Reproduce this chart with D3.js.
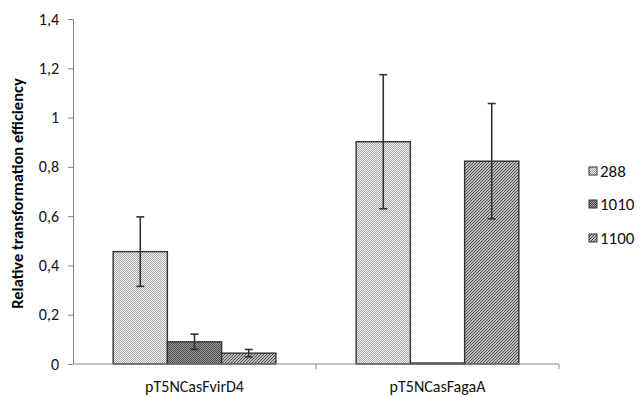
<!DOCTYPE html>
<html>
<head>
<meta charset="utf-8">
<script src="https://cdn.jsdelivr.net/npm/d3@7"></script>
<style>
	body { margin: 0; background: #fff; }
	text { font-family: Carlito, Lato, "Open Sans", sans-serif; }
</style>
</head>
<body>
<svg id="chart" width="643" height="397"></svg>
<script>
// chart data
var categories = ['pT5NCasFvirD4', 'pT5NCasFagaA'];
var seriesNames = ['288', '1010', '1100'];
var values288 = [0.456, 0.902];
var values1010 = [0.090, 0.004];
var values1100 = [0.044, 0.823];
var err288 = [0.141, 0.272];
var err1010 = [0.031, 0];
var err1100 = [0.015, 0.234];
var yTicks = [0, 0.2, 0.4, 0.6, 0.8, 1, 1.2, 1.4];

var seriesValues = [values288, values1010, values1100];
var seriesErrors = [err288, err1010, err1100];

var margin = { top: 19, left: 73, bottom: 33, right: 84 };
var width = 643 - margin.left - margin.right;
var height = 397 - margin.top - margin.bottom;
var textColor = '#111';

var svg = d3.select('#chart');
var defs = svg.append('defs');

// fill patterns
function checker(id, light, dark) {
	var p = defs.append('pattern')
		.attr('id', id)
		.attr('patternUnits', 'userSpaceOnUse')
		.attr('width', 2)
		.attr('height', 2);
	p.append('rect').attr('width', 2).attr('height', 2).attr('fill', light);
	p.append('rect').attr('width', 1).attr('height', 1).attr('fill', dark);
	p.append('rect').attr('x', 1).attr('y', 1).attr('width', 1).attr('height', 1).attr('fill', dark);
}
checker('p288', '#ffffff', '#9a9a9a');
checker('p1010', '#a6a6a6', '#404040');

var stripes = defs.append('pattern')
	.attr('id', 'p1100')
	.attr('patternUnits', 'userSpaceOnUse')
	.attr('width', 3)
	.attr('height', 3);
stripes.append('rect').attr('width', 3).attr('height', 3).attr('fill', '#fff');
stripes.append('path')
	.attr('d', 'M-1,1 L1,-1 M0,3 L3,0 M2,4 L4,2')
	.attr('stroke', '#333')
	.attr('stroke-width', 1.1);

var fills = ['url(#p288)', 'url(#p1010)', 'url(#p1100)'];

var g = svg.append('g')
	.attr('transform', 'translate(' + margin.left + ',' + margin.top + ')');

var x0 = d3.scaleBand()
	.domain(categories)
	.range([0, width])
	.paddingInner(0)
	.paddingOuter(0);

var barWidth = x0.bandwidth() / (3 + 1.48);
var x1 = d3.scaleBand()
	.domain(seriesNames)
	.range([0, barWidth * 3]);

var y = d3.scaleLinear()
	.domain([0, 1.4])
	.range([height, 0]);

// y axis
var yAxis = g.append('g')
	.call(d3.axisLeft(y).tickValues(yTicks).tickSize(5).tickPadding(9)
		.tickFormat(function(d) { return String(d).replace('.', ','); }));
yAxis.select('.domain').attr('stroke', '#868686').attr('d', 'M-5,0.5H0.5V' + height);
yAxis.selectAll('.tick line').attr('stroke', '#868686');
yAxis.selectAll('.tick text').style('font-size', '16px').attr('fill', textColor);

// bars
var groups = g.selectAll('.group')
	.data(categories)
	.enter()
	.append('g')
	.attr('transform', function(d) {
		return 'translate(' + (x0(d) + (x0.bandwidth() - barWidth * 3) / 2) + ',0)';
	});

groups.each(function(cat, ci) {
	var grp = d3.select(this);
	seriesNames.forEach(function(s, si) {
		var v = seriesValues[si][ci];
		grp.append('rect')
			.attr('x', x1(s))
			.attr('y', y(v))
			.attr('width', x1.bandwidth())
			.attr('height', height - y(v))
			.attr('fill', fills[si])
			.attr('stroke', '#333')
			.attr('stroke-width', 1.4);
	});
});

// x axis
var xAxis = g.append('g')
	.attr('transform', 'translate(0,' + height + ')')
	.call(d3.axisBottom(x0).tickSize(0).tickPadding(17));
xAxis.select('.domain').attr('stroke', '#868686').attr('d', 'M0.5,0H' + width + 'V5');
xAxis.selectAll('.tick text').style('font-size', '16px').attr('fill', textColor);
xAxis.append('line')
	.attr('x1', x0(categories[1])).attr('x2', x0(categories[1]))
	.attr('y1', 0).attr('y2', 5)
	.attr('stroke', '#868686');

// error bars
groups.each(function(cat, ci) {
	var grp = d3.select(this);
	seriesNames.forEach(function(s, si) {
		var v = seriesValues[si][ci];
		var e = seriesErrors[si][ci];
		if (!e) return;
		var cx = x1(s) + x1.bandwidth() / 2;
		var eb = grp.append('g').attr('stroke', '#333').attr('stroke-width', 1.6);
		eb.append('line').attr('x1', cx).attr('x2', cx).attr('y1', y(v + e)).attr('y2', y(v - e));
		eb.append('line').attr('x1', cx - 4).attr('x2', cx + 4).attr('y1', y(v + e)).attr('y2', y(v + e));
		eb.append('line').attr('x1', cx - 4).attr('x2', cx + 4).attr('y1', y(v - e)).attr('y2', y(v - e));
	});
});

// y axis title
svg.append('text')
	.attr('transform', 'translate(17,' + (margin.top + height / 2 + 2) + ') rotate(-90)')
	.attr('text-anchor', 'middle')
	.attr('dy', '0.35em')
	.style('font-size', '16.5px')
	.style('font-weight', 'bold')
	.attr('fill', '#000')
	.text('Relative transformation efficiency');

// legend
var legend = svg.append('g')
	.attr('transform', 'translate(589,0)');
var legendY = [171, 204, 238];
seriesNames.forEach(function(s, i) {
	legend.append('rect')
		.attr('x', 0)
		.attr('y', legendY[i] - 4)
		.attr('width', 8)
		.attr('height', 8)
		.attr('fill', fills[i])
		.attr('stroke', '#333')
		.attr('stroke-width', 1);
	legend.append('text')
		.attr('x', 11)
		.attr('y', legendY[i])
		.attr('dy', '0.35em')
		.style('font-size', '17px')
		.attr('fill', textColor)
		.text(s);
});
</script>
</body>
</html>
